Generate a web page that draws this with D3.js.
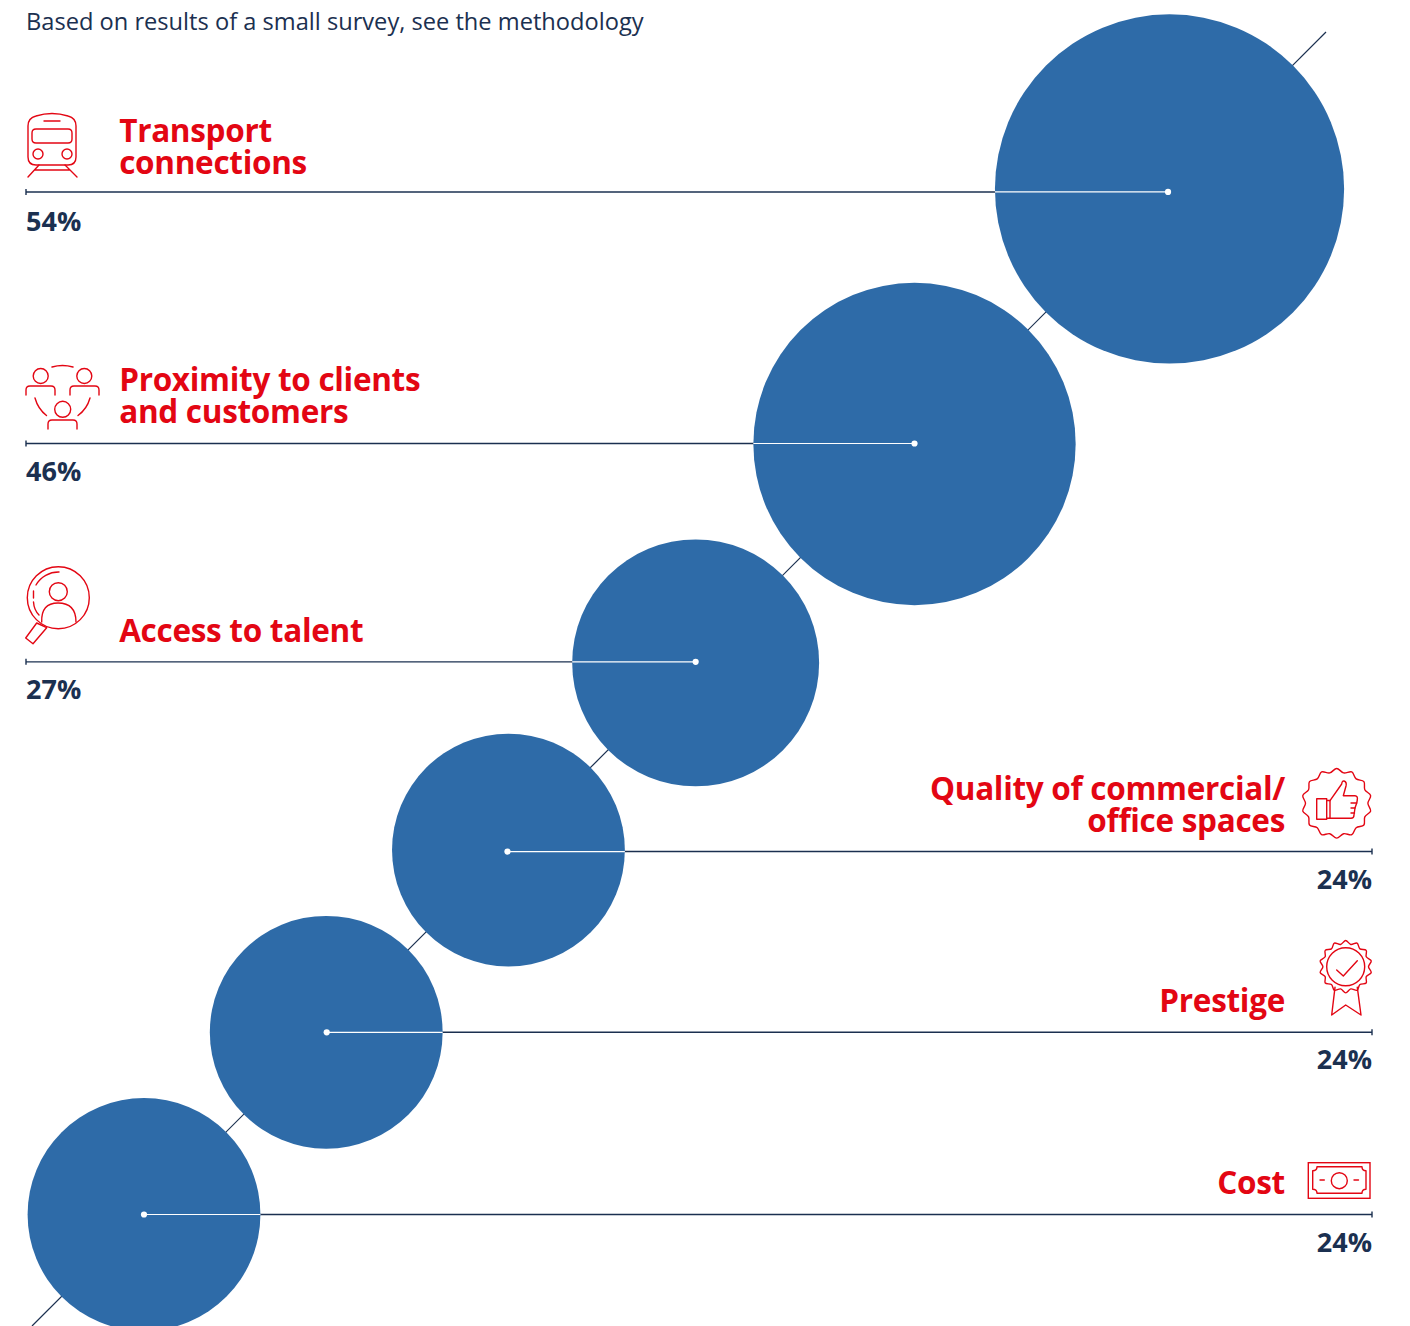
<!DOCTYPE html>
<html><head><meta charset="utf-8">
<script src="https://cdnjs.cloudflare.com/ajax/libs/d3/7.8.5/d3.min.js"></script>
<style>html,body{margin:0;padding:0;background:#fff;overflow:hidden}svg{display:block}text{font-family:"Open Sans",sans-serif}</style>
</head><body><svg id="c" width="1410" height="1326"></svg>
<script>
const subtitle = "Based on results of a small survey, see the methodology";
const categories = ["Transport connections","Proximity to clients and customers","Access to talent","Quality of commercial/ office spaces","Prestige","Cost"];
const labelLines = [["Transport","connections"],["Proximity to clients","and customers"],["Access to talent"],["Quality of commercial/","office spaces"],["Prestige"],["Cost"]];
const values = [54,46,27,24,24,24];
const sides = ["left","left","left","right","right","right"];

const RED="#e30613", NAVY="#1b3050", BLUE="#2e6ba8";
const svg=d3.select("#c");
const r=d3.scaleSqrt().domain([0,54]).range([0,174.6]);

// Layout: bubbles chained along the diagonal with a fixed gap
const gap=24.9/Math.SQRT2;
let cx=144, cy=1214.5;
const nodes=[];
for(let i=categories.length-1;i>=0;i--){
  const rad=r(values[i]);
  if(i<categories.length-1){
    const step=r(values[i+1])/Math.SQRT2+rad/Math.SQRT2+gap;
    cx+=step; cy-=step;
  }
  nodes[i]={i,cat:categories[i],lines:labelLines[i],v:values[i],side:sides[i],r:rad,cx,cy};
}
// small offsets of the source artwork relative to each bubble's centre
const ruleOffset=[3,-.5,-1,1.5,0,0];
const labelShift=[2.5,0.5,0.5,0.5,0,0];
const pctShift=[1.5,0,0,0,0,0];
const dotShift=[-1.5,0,0,-1,0.5,0];
const labelLeft=26,labelRight=1372,textLeft=119.2,textRight=1285;

svg.append("text").attr("x",26).attr("y",30).attr("font-size",23.65).attr("fill",NAVY).text(subtitle);

svg.append("line").attr("x1",1326).attr("y1",32).attr("x2",32).attr("y2",1326).attr("stroke",NAVY).attr("stroke-width",1.2);

const g=svg.selectAll("g.row").data(nodes).join("g").attr("class","row");
g.append("line").attr("class","rule")
  .attr("x1",d=>d.side==="left"?labelLeft:labelRight)
  .attr("x2",d=>d.cx)
  .attr("y1",d=>d.cy+ruleOffset[d.i]).attr("y2",d=>d.cy+ruleOffset[d.i])
  .attr("stroke",NAVY).attr("stroke-width",1.4);
g.append("line")
  .attr("x1",d=>d.side==="left"?labelLeft:labelRight).attr("x2",d=>d.side==="left"?labelLeft:labelRight)
  .attr("y1",d=>d.cy+ruleOffset[d.i]-3).attr("y2",d=>d.cy+ruleOffset[d.i]+3)
  .attr("stroke",NAVY).attr("stroke-width",1.4);
g.append("circle").attr("cx",d=>d.cx).attr("cy",d=>d.cy).attr("r",d=>d.r).attr("fill",BLUE);
g.append("line")
  .attr("x1",d=>d.cx+dotShift[d.i]).attr("y1",d=>d.cy+ruleOffset[d.i]).attr("y2",d=>d.cy+ruleOffset[d.i])
  .attr("x2",d=>d.cx+(d.side==="left"?-1:1)*d.r)
  .attr("stroke","#fff").attr("stroke-width",1.2);
g.append("circle").attr("cx",d=>d.cx+dotShift[d.i]).attr("cy",d=>d.cy+ruleOffset[d.i]).attr("r",3.1).attr("fill","#fff");

g.append("text").attr("class","pct")
  .attr("x",d=>d.side==="left"?labelLeft:labelRight)
  .attr("text-anchor",d=>d.side==="left"?"start":"end")
  .attr("y",d=>d.cy+ruleOffset[d.i]+pctShift[d.i]+37.2)
  .attr("font-size",27).attr("font-weight",700).attr("fill",NAVY).text(d=>d.v+"%");

g.each(function(d){
  const rule=d.cy+ruleOffset[d.i];
  const n=d.lines.length;
  d3.select(this).selectAll("text.lab").data(d.lines).join("text").attr("class","lab")
    .attr("x",d.side==="left"?textLeft:textRight)
    .attr("text-anchor",d.side==="left"?"start":"end")
    .attr("y",(t,k)=>rule-20.5+labelShift[d.i]-(n-1-k)*32)
    .attr("font-size",31.5).attr("font-weight",700).attr("fill",RED)
    .style("letter-spacing","-0.3px").text(t=>t);
});

// Icons
const ic=svg.append("g").attr("fill","none").attr("stroke",RED).attr("stroke-width",1.4).attr("stroke-linecap","round").attr("stroke-linejoin","round");
const P=s=>ic.append("path").attr("d",s);
const C=(x,y,q)=>ic.append("circle").attr("cx",x).attr("cy",y).attr("r",q);
// train
P("M28 126Q28 118 36 116Q52 111 68 116Q76 118 76 126V157Q76 165 68 165H36Q28 165 28 157Z");
P("M36 129H68Q72 129 72 133V139Q72 143 68 143H36Q32 143 32 139V133Q32 129 36 129Z");
P("M44 121H60M39 165L28 177M65 165L77 177M35 170H69");
C(38,154,5);C(67,154,5);
// people
C(40.7,376,7.5);C(84.3,376,7.5);C(62.7,409.3,8);
P("M26 395V390Q26 386 30 386H51Q55 386 55 390V395");
P("M70 395V390Q70 386 74 386H95Q99 386 99 390V395");
P("M48 429V424Q48 420 52 420H73Q77 420 77 424V429");
P("M52 367Q62.5 364 73 367M35 398Q38 409 46.5 415.5M90 398Q87 409 78 415.5");
// magnifier
C(58.3,597.7,31);C(58.3,591.7,9);
P("M59 572A26 26 0 0 0 36 585M33.5 591V598M33.5 602Q34 610 39 615");
P("M41.7 622Q41 603 58 603Q76 603 76 622");
P("M36.7 623L46.7 627.7L33 643.7L25.7 638Z");
// badge generator
function badge(cx0,cy0,R,amp,n){
  const pts=d3.range(n*2).map(k=>[k*Math.PI/n,R+(k%2?-amp:amp)]);
  ic.append("path").attr("transform",`translate(${cx0},${cy0})`)
    .attr("d",d3.lineRadial().curve(d3.curveCatmullRomClosed)(pts));
}
badge(1336.7,803.3,33,1.8,14);
P("M1316.7 798.7H1326.7V819.3H1316.7ZM1326.7 800.5H1330V818.3H1326.7");
P("M1330 800.7L1341.7 784Q1342 780.7 1344 781Q1347 782 1346 786L1343.3 795.7H1355Q1358 796 1357.3 800L1356.7 803L1355 808L1354 815Q1354 818.3 1351 818.3H1330");
P("M1351 803H1356.7M1351 808H1355M1351 813H1354.5");
// prestige
badge(1345.7,966.7,24.5,1.7,14);
C(1345.7,966.7,19);
P("M1336.7 970L1343.3 976L1357.3 960.7");
P("M1335 987.3L1331.7 1015L1345.7 1005L1361 1015L1357.3 987.3");
// cost
ic.append("rect").attr("x",1308.3).attr("y",1162.7).attr("width",61.7).attr("height",35.6).attr("stroke-linejoin","miter");
P("M1317 1166.7H1362Q1362 1170.7 1366 1170.7V1189.3Q1362 1189.3 1362 1193.3H1317Q1317 1189.3 1312.7 1189.3V1170.7Q1317 1170.7 1317 1166.7Z");
C(1339.3,1180.7,8);
P("M1320 1180H1324.3M1354 1180H1358.5");
</script></body></html>
